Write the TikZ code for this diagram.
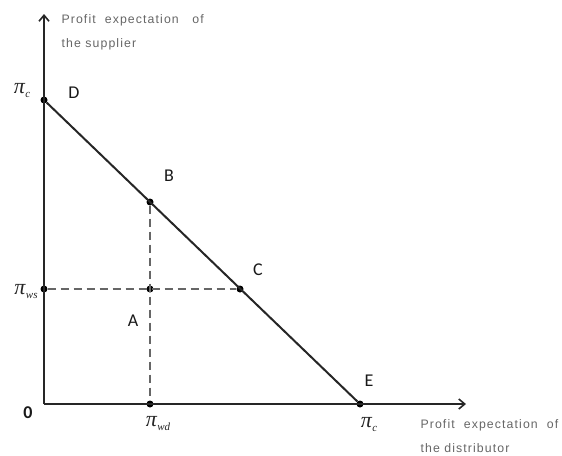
\documentclass[tikz,border=0pt]{standalone}
\usepackage{fontspec}
\setmainfont{Liberation Serif}
\newfontfamily\lab{Carlito}
\newfontfamily\axf[LetterSpace=9]{Liberation Sans}
\usetikzlibrary{arrows.meta}
\newcommand{\piof}[1]{{\fontsize{22}{22}\selectfont\itshape π}\kern0.5pt\raisebox{-4pt}{\fontsize{11}{11}\selectfont\itshape #1}}
\begin{document}
\begin{tikzpicture}[x=1pt,y=-1pt,
  axis/.style={line width=2pt,draw=black!85,-{Straight Barb[length=6pt,width=10pt,line width=1.6pt]}},
  mainline/.style={line width=2pt,draw=black!85},
  dashline/.style={line width=1.6pt,draw=black!60,dash pattern=on 8pt off 5pt},
  pt/.style={circle,fill=black,inner sep=0pt,minimum size=7pt},
  letter/.style={font=\lab\fontsize{18}{18}\selectfont,text=black!90},
  axtext/.style={font=\axf\fontsize{12.3}{14}\selectfont,text=black!60,align=left,anchor=west},
  pilab/.style={text=black!85,inner sep=0pt}]
\useasboundingbox (0,0) rectangle (562,455);
\coordinate (O) at (44,404);
\coordinate (ytip) at (44,14);
\coordinate (xtip) at (466,404);
\node[pt] (D) at (44,100) {};
\node[pt] (E) at (360,404) {};
\node[pt] (B) at (150,202) {};
\node[pt] (C) at (240,289) {};
\node[pt] (A) at (150,289) {};
\node[pt] (wd) at (150,404) {};
\node[pt] (ws) at (44,289) {};
\draw[dashline] (ws) -- (C);
\draw[dashline] (B) -- (wd);
\draw[axis] (O) -- (ytip);
\draw[axis] (O) -- (xtip);
\draw[mainline] (D) -- (E);
\node[axtext] (yl) at (58,32) {Profit\ \ expectation\ \ \ of\\[10pt]the supplier};
\node[axtext] (xl) at (417,436) {Profit\ \ expectation\ \ of\\[10pt]the distributor};
\node[letter] (Dl) at (74,93) {D};
\node[letter] (Bl) at (169,176) {B};
\node[letter] (Cl) at (258,270) {C};
\node[letter] (Al) at (133,321) {A};
\node[letter] (El) at (369,381) {E};
\node[font=\lab\bfseries\fontsize{18}{18}\selectfont,text=black!90] (zero) at (28,413) {0};
\node[pilab] (pc1) at (22,91) {\piof{c}};
\node[pilab] (pws) at (26,292) {\piof{ws}};
\node[pilab] (pwd) at (158,424) {\piof{wd}};
\node[pilab] (pc2) at (369,424) {\piof{c}};
\end{tikzpicture}
\end{document}
